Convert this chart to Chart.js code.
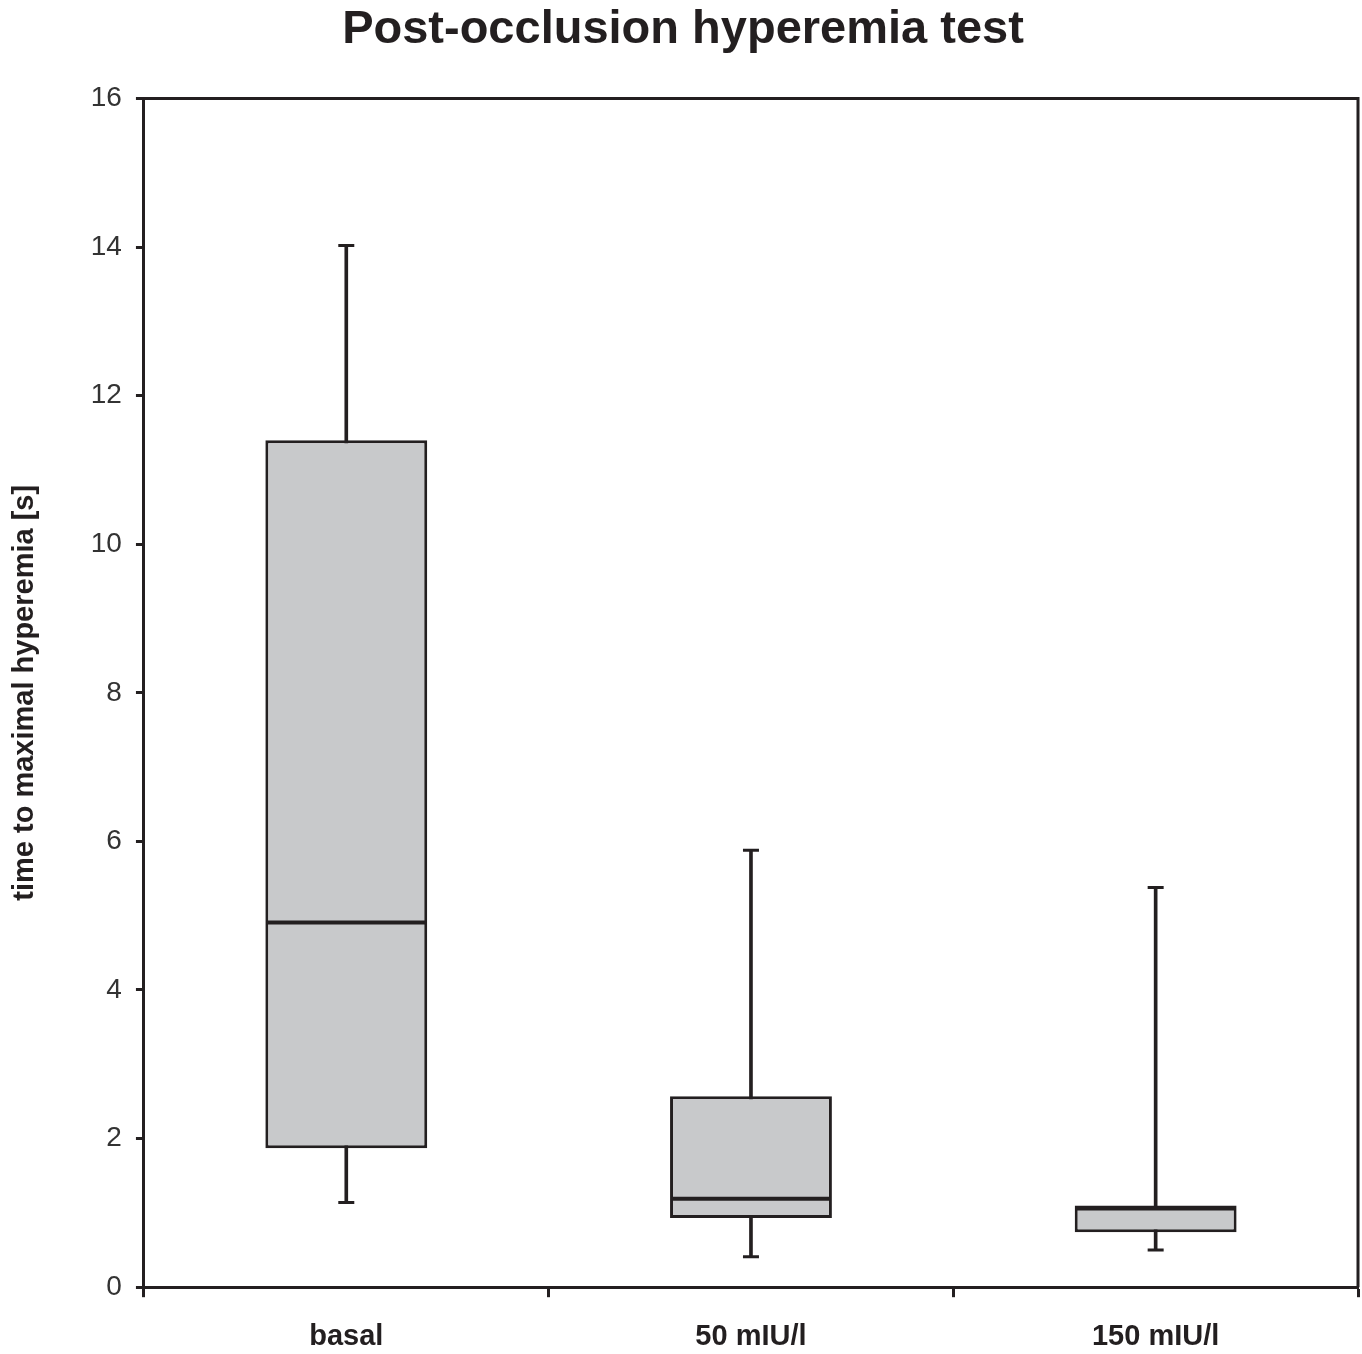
<!DOCTYPE html>
<html>
<head>
<meta charset="utf-8">
<script src="https://cdn.jsdelivr.net/npm/chart.js@4.4.1/dist/chart.umd.min.js"></script>
<style>
  html, body { margin: 0; padding: 0; background: #ffffff; }
  #wrap { width: 1362px; height: 1354px; }
</style>
</head>
<body>
<div id="wrap"><canvas id="c" width="1362" height="1354"></canvas></div>
<script>
// ---- data ----
const categories = ['basal', '50 mIU/l', '150 mIU/l'];
const whiskerMin = [1.14, 0.41, 0.50];
const q1 = [1.87, 0.93, 0.74];
const median = [4.91, 1.19, 1.06];
const q3 = [11.40, 2.57, 1.10];
const whiskerMax = [14.02, 5.88, 5.38];
const yTicks = [0, 2, 4, 6, 8, 10, 12, 14, 16];

const DARK = '#231f20';
const FILL = '#c8c9cb';
const FONT = "'Liberation Sans', Arial, sans-serif";

const frame = {
  id: 'frame',
  afterDraw(chart) {
    const { ctx, chartArea: a } = chart;
    ctx.save();
    ctx.strokeStyle = DARK;
    ctx.lineWidth = 3;
    ctx.beginPath();
    ctx.moveTo(a.left, a.top);
    ctx.lineTo(a.right, a.top);
    ctx.lineTo(a.right, a.bottom);
    ctx.stroke();
    ctx.restore();
  }
};

new Chart(document.getElementById('c'), {
  data: {
    labels: categories,
    datasets: [
      {
        type: 'line', label: 'median', data: median,
        showLine: false, pointStyle: 'line', pointRadius: 80, pointHoverRadius: 80,
        borderColor: DARK, pointBorderWidth: 4, pointHoverBorderWidth: 4
      },
      {
        type: 'line', label: 'max', data: whiskerMax,
        showLine: false, pointStyle: 'line', pointRadius: 8, pointHoverRadius: 8,
        borderColor: DARK, pointBorderWidth: 3, pointHoverBorderWidth: 3
      },
      {
        type: 'line', label: 'min', data: whiskerMin,
        showLine: false, pointStyle: 'line', pointRadius: 8, pointHoverRadius: 8,
        borderColor: DARK, pointBorderWidth: 3, pointHoverBorderWidth: 3
      },
      {
        type: 'bar', label: 'box', grouped: false,
        data: categories.map((c, i) => [q1[i], q3[i]]),
        backgroundColor: FILL, borderColor: DARK, borderWidth: 3, borderSkipped: false,
        categoryPercentage: 1.0, barPercentage: 0.4
      },
      {
        type: 'bar', label: 'whisker', grouped: false,
        data: categories.map((c, i) => [whiskerMin[i], whiskerMax[i]]),
        backgroundColor: DARK, borderWidth: 0, barThickness: 3
      }
    ]
  },
  options: {
    responsive: false,
    animation: false,
    events: [],
    layout: { autoPadding: false, padding: { left: 8, right: 4, top: 0, bottom: -22 } },
    plugins: {
      legend: { display: false },
      tooltip: { enabled: false },
      title: {
        display: true,
        text: 'Post-occlusion hyperemia test',
        color: DARK,
        font: { family: FONT, size: 47, weight: 'bold' },
        padding: { top: 2, bottom: 40 }
      }
    },
    scales: {
      x: {
        type: 'category',
        offset: true,
        grid: { display: true, offset: true, drawOnChartArea: false, tickLength: 10, tickWidth: 3, tickColor: DARK },
        border: { display: true, color: DARK, width: 3 },
        ticks: { color: DARK, font: { family: FONT, size: 29, weight: 'bold' }, padding: 22 }
      },
      y: {
        type: 'linear',
        min: 0, max: 16,
        afterBuildTicks(axis) { axis.ticks = yTicks.map(v => ({ value: v })); },
        grid: { display: true, drawOnChartArea: false, tickLength: 8, tickWidth: 3, tickColor: DARK },
        border: { display: true, color: DARK, width: 3 },
        ticks: { color: '#333333', font: { family: FONT, size: 28 }, padding: 14 },
        title: {
          display: true,
          text: 'time to maximal hyperemia [s]',
          color: DARK,
          font: { family: FONT, size: 29, weight: 'bold' },
          padding: { top: 0, bottom: 34 }
        }
      }
    }
  },
  plugins: [frame]
});
</script>
</body>
</html>
